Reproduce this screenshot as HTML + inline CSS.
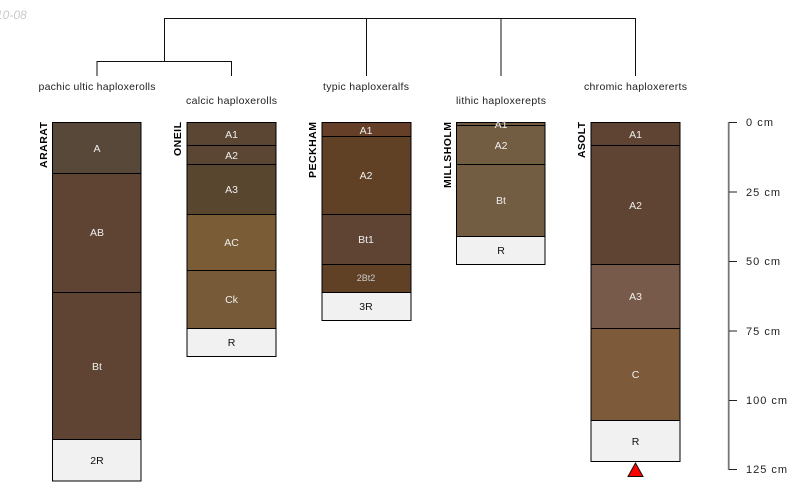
<!DOCTYPE html>
<html><head><meta charset="utf-8"><style>
html,body{margin:0;padding:0;background:#fff;width:800px;height:500px;overflow:hidden}
svg{display:block}
text{font-family:"Liberation Sans",sans-serif}
.t{font-size:10.5px;fill:#222;text-anchor:middle}
.h{font-size:10.5px;fill:#eee;text-anchor:middle}
.d{font-size:10.5px;fill:#111;text-anchor:middle}
.n{font-size:10.5px;font-weight:bold;fill:#000;text-anchor:end}
.s{font-size:11px;fill:#222}
</style></head><body>
<svg width="800" height="500" viewBox="0 0 800 500" xmlns="http://www.w3.org/2000/svg">
<text x="-4" y="19" font-size="12" font-style="italic" fill="#c8c8c8">10-08</text>

<g fill="none" stroke="#111" stroke-width="1">
<path d="M164.500 61V18.500H635.500V61"/>
<path d="M97 76V61.500H231.500V76"/>
<path d="M366.500 18.500V76M501 18.500V76M635.500 61V76"/>
</g>

<text class="t" x="97" y="90" textLength="117">pachic ultic haploxerolls</text>
<text class="t" x="231.500" y="104" textLength="91">calcic haploxerolls</text>
<text class="t" x="366" y="90" textLength="86">typic haploxeralfs</text>
<text class="t" x="501" y="104" textLength="90">lithic haploxerepts</text>
<text class="t" x="635.500" y="90" textLength="103">chromic haploxererts</text>

<g stroke="#000" stroke-width="1" transform="translate(0,0.500)">
<rect x="52.500" y="122" width="88.500" height="51" fill="#58483a"/>
<rect x="52.500" y="173" width="88.500" height="119" fill="#5f4433"/>
<rect x="52.500" y="292" width="88.500" height="147" fill="#5f4433"/>
<rect x="52.500" y="439" width="88.500" height="41.500" fill="#f1f1f1"/>

<rect x="187" y="122" width="89" height="23" fill="#5a4633"/>
<rect x="187" y="145" width="89" height="19" fill="#5a4633"/>
<rect x="187" y="164" width="89" height="50" fill="#58462f"/>
<rect x="187" y="214" width="89" height="56" fill="#7a5c37"/>
<rect x="187" y="270" width="89" height="58" fill="#775b38"/>
<rect x="187" y="328" width="89" height="28" fill="#f1f1f1"/>

<rect x="322" y="122" width="89" height="14" fill="#653f28"/>
<rect x="322" y="136" width="89" height="78" fill="#614126"/>
<rect x="322" y="214" width="89" height="50" fill="#5f4433"/>
<rect x="322" y="264" width="89" height="28" fill="#614126"/>
<rect x="322" y="292" width="89" height="28" fill="#f1f1f1"/>

<rect x="456.500" y="122" width="88.500" height="3" fill="#6f5a42"/>
<rect x="456.500" y="125" width="88.500" height="39" fill="#725c42"/>
<rect x="456.500" y="164" width="88.500" height="72" fill="#725c42"/>
<rect x="456.500" y="236" width="88.500" height="28" fill="#f1f1f1"/>

<rect x="591" y="122" width="89" height="23" fill="#5f4433"/>
<rect x="591" y="145" width="89" height="119" fill="#5f4433"/>
<rect x="591" y="264" width="89" height="64" fill="#775a4a"/>
<rect x="591" y="328" width="89" height="92" fill="#7d5a3a"/>
<rect x="591" y="420" width="89" height="41" fill="#f1f1f1"/>
</g>

<text class="h" x="97" y="152">A</text>
<text class="h" x="97" y="236">AB</text>
<text class="h" x="97" y="370">Bt</text>
<text class="d" x="97" y="464">2R</text>

<text class="h" x="231.500" y="138">A1</text>
<text class="h" x="231.500" y="159">A2</text>
<text class="h" x="231.500" y="193">A3</text>
<text class="h" x="231.500" y="246">AC</text>
<text class="h" x="231.500" y="303">Ck</text>
<text class="d" x="231.500" y="346">R</text>

<text class="h" x="366" y="134">A1</text>
<text class="h" x="366" y="179">A2</text>
<text class="h" x="366" y="243">Bt1</text>
<text class="h" x="366" y="281" style="font-size:9px;fill:#ccc">2Bt2</text>
<text class="d" x="366" y="310">3R</text>

<text class="h" x="501" y="128">A1</text>
<text class="h" x="501" y="149">A2</text>
<text class="h" x="501" y="204">Bt</text>
<text class="d" x="501" y="254">R</text>

<text class="h" x="635.500" y="138">A1</text>
<text class="h" x="635.500" y="209">A2</text>
<text class="h" x="635.500" y="300">A3</text>
<text class="h" x="635.500" y="378">C</text>
<text class="d" x="635.500" y="445">R</text>

<text class="n" transform="translate(47,122) rotate(-90)" textLength="46">ARARAT</text>
<text class="n" transform="translate(181,122) rotate(-90)" textLength="34">ONEIL</text>
<text class="n" transform="translate(316,122) rotate(-90)" textLength="56">PECKHAM</text>
<text class="n" transform="translate(451,122) rotate(-90)" textLength="66">MILLSHOLM</text>
<text class="n" transform="translate(585,122) rotate(-90)" textLength="36">ASOLT</text>

<polygon points="635.500,463 628,476.500 643,476.500" fill="#f00" stroke="#111" stroke-width="1"/>

<g fill="none">
<path d="M728.700 122V470" stroke="#777" stroke-width="1.800"/>
<path d="M729 122.500H737M729 192H737M729 261.500H737M729 331H737M729 400.500H737M729 469.500H737" stroke="#222" stroke-width="1"/>
</g>
<text class="s" x="746" y="126" textLength="27">0 cm</text>
<text class="s" x="746" y="196" textLength="34">25 cm</text>
<text class="s" x="746" y="265" textLength="34">50 cm</text>
<text class="s" x="746" y="335" textLength="34">75 cm</text>
<text class="s" x="746" y="404" textLength="41">100 cm</text>
<text class="s" x="746" y="473" textLength="41">125 cm</text>
</svg>
</body></html>
